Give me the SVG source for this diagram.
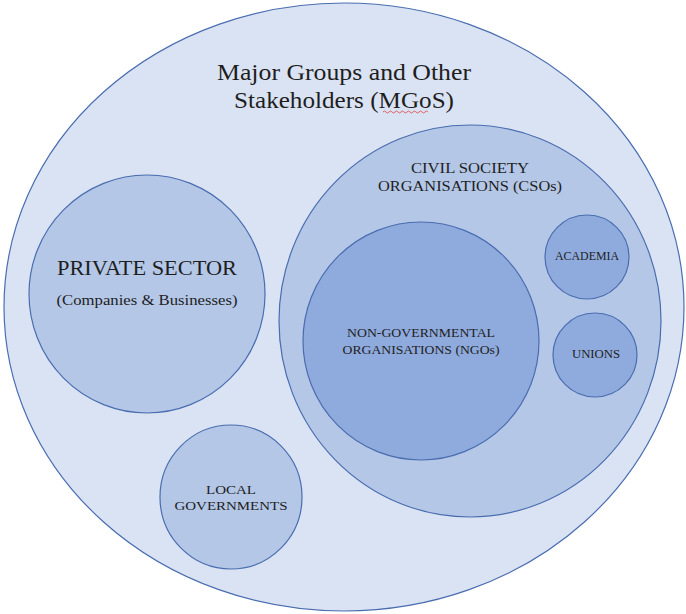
<svg xmlns="http://www.w3.org/2000/svg" width="686" height="614" viewBox="0 0 686 614">
<style>
.c{stroke:#4a6db0;stroke-width:1.2}
.l1{fill:#dae3f3}
.l2{fill:#b4c7e7}
.l3{fill:#8faadc}
text{font-family:"Liberation Serif","Times New Roman",serif;fill:#1e1e1e;text-anchor:middle}
</style>
<rect width="686" height="614" fill="#ffffff"/>
<g id="mgos">
<ellipse class="c l1" cx="344" cy="307" rx="340" ry="304"/>
<text x="344" y="80" font-size="23" textLength="254" lengthAdjust="spacingAndGlyphs">Major Groups and Other</text>
<text x="344" y="108" font-size="23" textLength="220" lengthAdjust="spacingAndGlyphs">Stakeholders (MGoS)</text>
<path d="M383 112 q1.5 -2 3 0 t3 0 t3 0 t3 0 t3 0 t3 0 t3 0 t3 0 t3 0 t3 0 t3 0 t3 0 t3 0 t3 0 t3 0" fill="none" stroke="#e04040" stroke-width="0.8"/>
</g>
<g id="private">
<ellipse class="c l2" cx="147" cy="294" rx="118" ry="119"/>
<text x="147" y="275" font-size="20" textLength="180" lengthAdjust="spacingAndGlyphs">PRIVATE SECTOR</text>
<text x="147" y="305" font-size="14" textLength="181" lengthAdjust="spacingAndGlyphs">(Companies &amp; Businesses)</text>
</g>
<g id="cso">
<ellipse class="c l2" cx="470" cy="321" rx="191" ry="196"/>
<text x="470" y="173" font-size="14" textLength="118" lengthAdjust="spacingAndGlyphs">CIVIL SOCIETY</text>
<text x="470" y="191" font-size="14" textLength="184" lengthAdjust="spacingAndGlyphs">ORGANISATIONS (CSOs)</text>
</g>
<g id="ngo">
<ellipse class="c l3" cx="421" cy="341" rx="118" ry="119"/>
<text x="421" y="337" font-size="12.5" textLength="148" lengthAdjust="spacingAndGlyphs">NON-GOVERNMENTAL</text>
<text x="421" y="354" font-size="12.5" textLength="157" lengthAdjust="spacingAndGlyphs">ORGANISATIONS (NGOs)</text>
</g>
<g id="academia">
<circle class="c l3" cx="587" cy="257" r="42"/>
<text x="587" y="260" font-size="11.5" textLength="64" lengthAdjust="spacingAndGlyphs">ACADEMIA</text>
</g>
<g id="unions">
<circle class="c l3" cx="595" cy="355" r="42"/>
<text x="596" y="358" font-size="11.5" textLength="48" lengthAdjust="spacingAndGlyphs">UNIONS</text>
</g>
<g id="local">
<ellipse class="c l2" cx="231" cy="497" rx="71" ry="72"/>
<text x="231" y="494" font-size="13.5" textLength="50" lengthAdjust="spacingAndGlyphs">LOCAL</text>
<text x="231" y="510" font-size="13.5" textLength="113" lengthAdjust="spacingAndGlyphs">GOVERNMENTS</text>
</g>
<g id="connectors"/>
</svg>
